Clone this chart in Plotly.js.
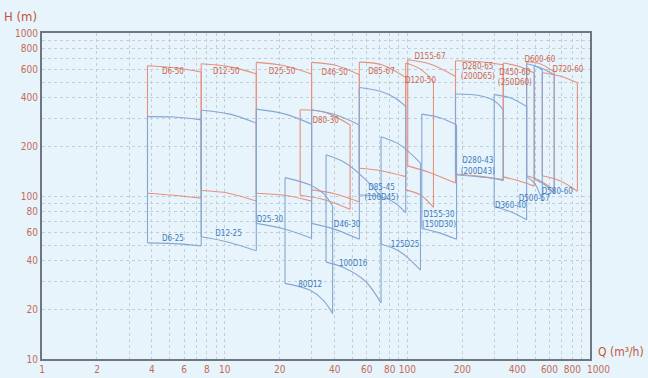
<!DOCTYPE html>
<html><head><meta charset="utf-8">
<script src="https://cdn.plot.ly/plotly-3.0.1.min.js"></script>
<style>html,body{margin:0;padding:0;background:#e7f4fb;}</style>
</head><body><div id="chart" style="width:648px;height:378px;"></div>
<script>
// ---- data: flow Q (m3/h), head at max (TOP) and min (BOT) ----
const D6_50_Q = [3.78, 5.29, 7.44];   const D6_50_TOP = [630, 612, 576];  const D6_50_BOT = [104, 101, 97];
const D6_25_Q = [3.78, 5.29, 7.44];   const D6_25_TOP = [307, 305, 293];  const D6_25_BOT = [51.6, 51, 49.3];
const D12_50_Q = [7.44, 10.5, 14.9];  const D12_50_TOP = [648, 622, 562]; const D12_50_BOT = [108, 104, 93];
const D12_25_Q = [7.44, 10.5, 14.9];  const D12_25_TOP = [336, 319, 280]; const D12_25_BOT = [56.2, 52.1, 46.1];
const D25_50_Q = [14.9, 21.2, 29.9];  const D25_50_TOP = [660, 630, 560]; const D25_50_BOT = [104, 101, 93];
const D25_30_Q = [14.9, 21.2, 29.9];  const D25_30_TOP = [341, 319, 276]; const D25_30_BOT = [67.9, 62.7, 55];
const D46_50_Q = [29.9, 40.4, 54.6];  const D46_50_TOP = [660, 634, 554]; const D46_50_BOT = [109, 103, 92];
const D46_30_Q = [29.9, 40.4, 54.6];  const D46_30_TOP = [338, 315, 273]; const D46_30_BOT = [67.9, 62.2, 54.2];
const D80_30_Q = [25.9, 35.5, 48.6];  const D80_30_TOP = [338, 326, 273]; const D80_30_BOT = [101, 94.5, 82.8];
const P80D12_Q = [21.4, 29.4, 34.6, 39.0]; const P80D12_TOP = [129.6, 116.8, 104, 86.8]; const P80D12_BOT = [29.1, 26.4, 23.0, 19.0];
const P100D16_Q = [35.9, 45.6, 58.7, 71.8]; const P100D16_TOP = [179, 160, 127, 98.6]; const P100D16_BOT = [39.3, 36.1, 30.1, 22.1];
const D85_67_Q = [54.6, 71.8, 98];    const D85_67_TOP = [663, 640, 533]; const D85_67_BOT = [148, 143, 131.5];
const D85_45_Q = [54.6, 71.8, 85.7, 98]; const D85_45_TOP = [463, 437, 399, 354]; const D85_45_BOT = [101.4, 99, 90.6, 78.9];
const P125D25_Q = [71.8, 91.2, 118];  const P125D25_TOP = [231, 206, 159]; const P125D25_BOT = [50.7, 45.5, 35.1];
const D120_50_Q = [98, 118, 139];     const D120_50_TOP = [654, 600, 504]; const D120_50_BOT = [109, 101.4, 85.2];
const D155_67_Q = [100.5, 133, 183.5]; const D155_67_TOP = [685, 645, 541]; const D155_67_BOT = [153, 139, 120];
const D155_30_Q = [120, 151, 186];    const D155_30_TOP = [318, 302, 273]; const D155_30_BOT = [63.3, 59.2, 54.2];
const D280_65_Q = [183.5, 250, 335];  const D280_65_TOP = [676, 666, 639]; const D280_65_BOT = [136.5, 132, 126];
const D280_43_Q = [183.5, 250, 299, 335]; const D280_43_TOP = [422, 412, 384, 338]; const D280_43_BOT = [135, 131, 128, 124];
const D360_40_Q = [299, 365, 450];    const D360_40_TOP = [419, 401, 354]; const D360_40_BOT = [86.2, 80.3, 71.5];
const D450_60_Q = [335, 405, 495];    const D450_60_TOP = [654, 625, 568]; const D450_60_BOT = [131, 124, 115];
const D600_60_Q = [450, 532, 637];    const D600_60_TOP = [666, 648, 578]; const D600_60_BOT = [133, 124, 109];
const D500_57_Q = [450, 497, 548];    const D500_57_TOP = [648, 630, 595]; const D500_57_BOT = [131, 120, 93.2];
const D580_60_Q = [495, 560, 637];    const D580_60_TOP = [630, 600, 554]; const D580_60_BOT = [126.6, 118, 104];
const D720_60_Q = [548, 684, 853];    const D720_60_TOP = [571, 545, 495]; const D720_60_BOT = [133, 124, 107];

// labels
const RED_LABELS = ["D6-50","D12-50","D25-50","D46-50","D80-30","D85-67","D120-50","D155-67","D280-65<br>(200D65)","D450-60<br>(250D60)","D600-60","D720-60"];
const RED_LABEL_Q = [5.21, 10.2, 20.6, 40.0, 35.7, 72.2, 118, 133, 243, 388, 532, 757];
const RED_LABEL_H = [574, 574, 574, 566, 289, 578, 506, 710, 578, 528, 685, 591];
const BLUE_LABELS = ["D6-25","D12-25","D25-30","D46-30","80D12","100D16","D85-45<br>(100D45)","125D25","D155-30<br>(150D30)","D280-43<br>(200D43)","D360-40","D500-57","D580-60"];
const BLUE_LABEL_Q = [5.21, 10.5, 17.7, 46.8, 29.4, 50.5, 72.2, 97.2, 149, 243, 367, 495, 662];
const BLUE_LABEL_H = [54.4, 58.4, 71.2, 66.3, 28.4, 38.2, 104, 50.3, 71.2, 152, 86.8, 95.8, 106];

const X_TICKS = [1,2,3,4,5,6,7,8,9,10,20,30,40,50,60,70,80,90,100,200,300,400,500,600,700,800,900,1000];
const X_TEXT  = ["1","2","","4","","6","","8","","10","20","","40","","60","","80","","100","200","","400","","600","","800","",""];
const X_LAST_LABEL = "1000";
const Y_TICKS = [10,20,30,40,50,60,70,80,90,100,200,300,400,500,600,700,800,900,1000];
const Y_TEXT  = ["10","20","","40","","60","","80","","100","200","","400","","600","","800","","1000"];

const RED = '#e5917f', BLUE = '#86a7d3';
const FONT = "'Liberation Sans Narrow', 'DejaVu Sans Condensed', 'Arial Narrow', sans-serif";

function box(q, top, bot, color) {
  const n = q.length - 1;
  const xs = q.concat([null], q, [null, q[0], q[0], null, q[n], q[n]]);
  const ys = top.concat([null], bot, [null, top[0], bot[0], null, top[n], bot[n]]);
  return {type:'scatter', mode:'lines', x: xs, y: ys, connectgaps:false,
          line:{color: color, width:1.1, shape:'spline', smoothing:1},
          hoverinfo:'skip', showlegend:false};
}

const traces = [
  box(D6_50_Q, D6_50_TOP, D6_50_BOT, RED),
  box(D12_50_Q, D12_50_TOP, D12_50_BOT, RED),
  box(D25_50_Q, D25_50_TOP, D25_50_BOT, RED),
  box(D46_50_Q, D46_50_TOP, D46_50_BOT, RED),
  box(D80_30_Q, D80_30_TOP, D80_30_BOT, RED),
  box(D85_67_Q, D85_67_TOP, D85_67_BOT, RED),
  box(D120_50_Q, D120_50_TOP, D120_50_BOT, RED),
  box(D155_67_Q, D155_67_TOP, D155_67_BOT, RED),
  box(D280_65_Q, D280_65_TOP, D280_65_BOT, RED),
  box(D450_60_Q, D450_60_TOP, D450_60_BOT, RED),
  box(D600_60_Q, D600_60_TOP, D600_60_BOT, RED),
  box(D720_60_Q, D720_60_TOP, D720_60_BOT, RED),
  box(D6_25_Q, D6_25_TOP, D6_25_BOT, BLUE),
  box(D12_25_Q, D12_25_TOP, D12_25_BOT, BLUE),
  box(D25_30_Q, D25_30_TOP, D25_30_BOT, BLUE),
  box(D46_30_Q, D46_30_TOP, D46_30_BOT, BLUE),
  box(P80D12_Q, P80D12_TOP, P80D12_BOT, BLUE),
  box(P100D16_Q, P100D16_TOP, P100D16_BOT, BLUE),
  box(D85_45_Q, D85_45_TOP, D85_45_BOT, BLUE),
  box(P125D25_Q, P125D25_TOP, P125D25_BOT, BLUE),
  box(D155_30_Q, D155_30_TOP, D155_30_BOT, BLUE),
  box(D280_43_Q, D280_43_TOP, D280_43_BOT, BLUE),
  box(D360_40_Q, D360_40_TOP, D360_40_BOT, BLUE),
  box(D500_57_Q, D500_57_TOP, D500_57_BOT, BLUE),
  box(D580_60_Q, D580_60_TOP, D580_60_BOT, BLUE),
  {type:'scatter', mode:'text', x: RED_LABEL_Q, y: RED_LABEL_H, text: RED_LABELS,
   textfont:{family: FONT, size:8, color:'#d0654e'}, cliponaxis:false, hoverinfo:'skip', showlegend:false},
  {type:'scatter', mode:'text', x: BLUE_LABEL_Q, y: BLUE_LABEL_H, text: BLUE_LABELS,
   textfont:{family: FONT, size:8, color:'#3f7dbd'}, cliponaxis:false, hoverinfo:'skip', showlegend:false}
];

const axisCommon = {
  type:'log', showgrid:true, gridcolor:'#c4ced6', griddash:'dot', gridwidth:1,
  showline:true, linecolor:'#6d7681', linewidth:2, mirror:true, ticks:'', zeroline:false,
  tickmode:'array', tickangle:0, tickfont:{family: FONT, size:10, color:'#c46a55'}
};

const layout = {
  width:648, height:378,
  margin:{l:42, r:58, t:33, b:19},
  paper_bgcolor:'#e7f4fb', plot_bgcolor:'#e7f4fb',
  showlegend:false,
  xaxis: Object.assign({}, axisCommon, {range:[0,3], tickvals:X_TICKS, ticktext:X_TEXT, automargin:false}),
  yaxis: Object.assign({}, axisCommon, {range:[1,3], tickvals:Y_TICKS, ticktext:Y_TEXT, automargin:false}),
  annotations:[
    {text:'H (m)', xref:'paper', yref:'paper', x:-0.04, y:1.05, xanchor:'center', yanchor:'middle', showarrow:false,
     font:{family: FONT, size:13, color:'#c2553d'}},
    {text:'Q (m³/h)', xref:'paper', yref:'paper', x:1.057, y:0.022, xanchor:'center', yanchor:'middle', showarrow:false,
     font:{family: FONT, size:12, color:'#c2553d'}},
    {text:X_LAST_LABEL, xref:'paper', yref:'paper', x:1.0146, y:-0.031, xanchor:'center', yanchor:'middle', showarrow:false,
     font:{family: FONT, size:10, color:'#c46a55'}}
  ]
};

Plotly.newPlot('chart', traces, layout, {staticPlot:true, displayModeBar:false});
</script>
</body></html>
